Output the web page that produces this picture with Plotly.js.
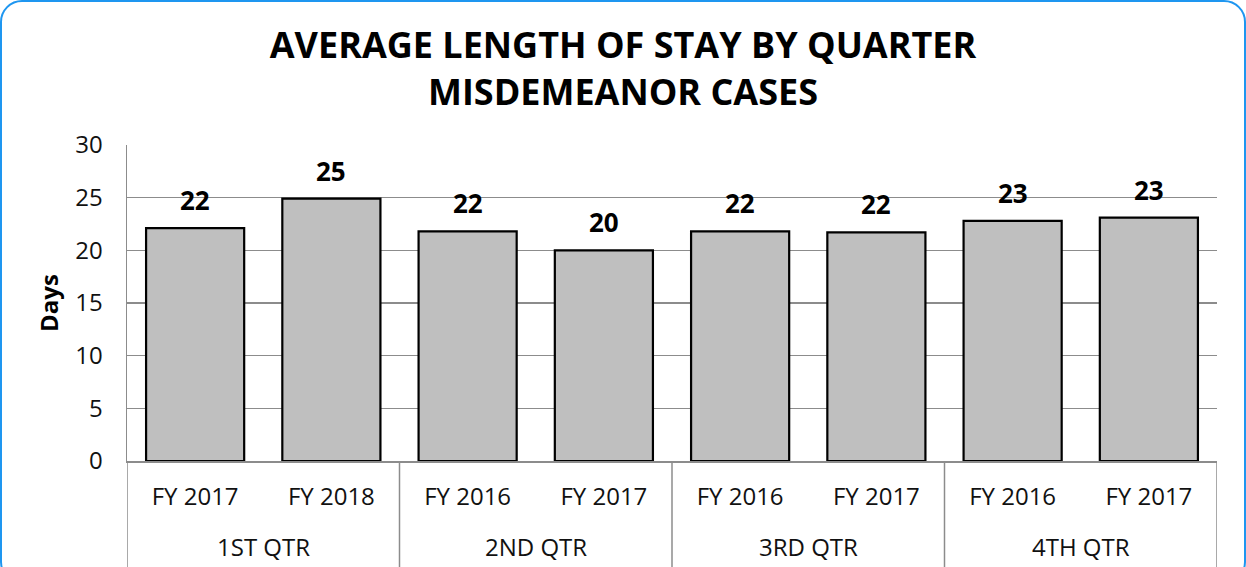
<!DOCTYPE html>
<html>
<head>
<meta charset="utf-8">
<script src="https://cdn.plot.ly/plotly-3.0.1.min.js"></script>
<style>
  html, body { margin: 0; padding: 0; background: #fff; overflow: hidden; }
  #frame { position: absolute; left: 0; top: 0; width: 1242px; height: 580px; border: 2px solid #1E96F0; border-radius: 22px; }
  #chart { position: absolute; left: 0; top: 0; width: 1246px; height: 567px; }
</style>
</head>
<body>
<div id="frame"></div>
<div id="chart"></div>
<script>
const quarters = ["1ST QTR", "1ST QTR", "2ND QTR", "2ND QTR", "3RD QTR", "3RD QTR", "4TH QTR", "4TH QTR"];
const fiscalYears = ["FY 2017", "FY 2018", "FY 2016", "FY 2017", "FY 2016", "FY 2017", "FY 2016", "FY 2017"];
const avgDays = [22.1, 24.9, 21.8, 20.0, 21.8, 21.7, 22.8, 23.1];
const yTicks = [0, 5, 10, 15, 20, 25, 30];

// slot positions derived from data order
const xPos = fiscalYears.map((_, i) => i);
const groups = [...new Set(quarters)];
const groupIdx = groups.map(g => xPos.filter(i => quarters[i] === g));

const tickFont = { family: "Open Sans, sans-serif", size: 24, color: "#111" };
const gray = "#8C8C8C";

const trace = {
  type: "bar",
  x: xPos,
  y: avgDays,
  marker: { color: "#BFBFBF", line: { color: "#000", width: 2.2 } },
  hoverinfo: "skip"
};

const valueLabels = avgDays.map((v, i) => ({
  xref: "x", yref: "y", x: xPos[i], y: v,
  text: Math.round(v).toString(), showarrow: false,
  xanchor: "center", yanchor: "bottom", yshift: 8,
  font: { family: "Open Sans, sans-serif", size: 26, color: "#000", weight: "bold" }
}));

const groupLabels = groups.map((g, k) => ({
  xref: "x", yref: "paper",
  x: (Math.min(...groupIdx[k]) + Math.max(...groupIdx[k])) / 2, y: -0.269,
  text: g, showarrow: false, xanchor: "center", yanchor: "middle",
  font: tickFont
}));

const bounds = [Math.min(...groupIdx[0]) - 0.5, ...groupIdx.map(ix => Math.max(...ix) + 0.5)];
const dividers = bounds.map(b => ({
  type: "line", xref: "x", yref: "paper", x0: b, x1: b, y0: 0, y1: -0.36,
  line: { color: gray, width: 1.5 }
}));

const layout = {
  width: 1246, height: 567,
  paper_bgcolor: "rgba(0,0,0,0)", plot_bgcolor: "rgba(0,0,0,0)",
  margin: { l: 127, r: 29, t: 145, b: 106 },
  bargap: 0.28,
  showlegend: false,
  annotations: valueLabels.concat(groupLabels),
  shapes: dividers,
  title: {
    text: "AVERAGE LENGTH OF STAY BY QUARTER<br>MISDEMEANOR CASES",
    font: { family: "Open Sans, sans-serif", size: 36, color: "#000", weight: "bold" },
    xref: "container", x: 0.5, xanchor: "center",
    yref: "container", y: 0.898, yanchor: "middle"
  },
  xaxis: {
    range: [-0.5, xPos.length - 0.5],
    tickvals: xPos,
    ticktext: fiscalYears,
    tickfont: tickFont,
    showline: true, linecolor: gray, linewidth: 1.5,
    ticks: "",
    ticklabelstandoff: 14,
    showgrid: false, zeroline: false
  },
  yaxis: {
    range: [0, 30],
    tickvals: yTicks,
    ticktext: yTicks.map(String),
    tickfont: tickFont,
    showgrid: true, gridcolor: gray, gridwidth: 1.5,
    showline: true, linecolor: gray, linewidth: 1.5,
    zeroline: false,
    ticks: "",
    ticklabelstandoff: 18,
    title: { text: "Days", font: { family: "Open Sans, sans-serif", size: 24, color: "#000", weight: "bold" }, standoff: 10 }
  }
};

Plotly.newPlot("chart", [trace], layout, { displayModeBar: false, staticPlot: true });
</script>
</body>
</html>
